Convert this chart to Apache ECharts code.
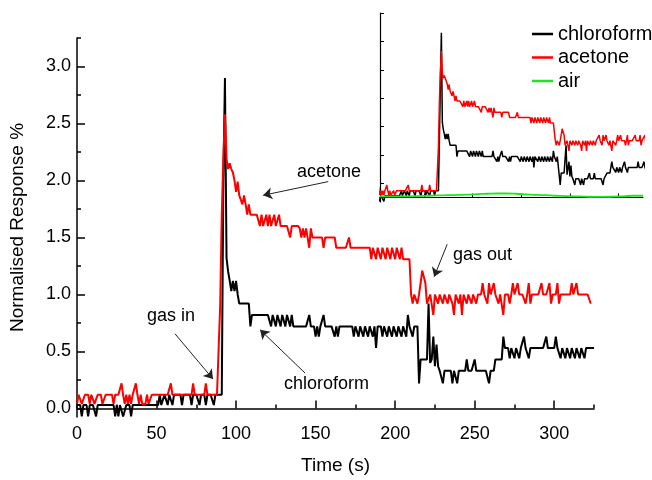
<!DOCTYPE html>
<html>
<head>
<meta charset="utf-8">
<script src="https://cdn.jsdelivr.net/npm/echarts@6/dist/echarts.min.js"></script>
<style>
html, body { margin: 0; padding: 0; background: #fff; }
#chart { width: 652px; height: 480px; }
</style>
</head>
<body>
<div id="chart"></div>
<script>
// sampling step of both traces (s)
const timeStep = 1

// normalised response, one value per second from t = 0
const chloroform = [
    0.03, 0.03, 0.03, -0.07, 0.03, 0.03, 0.03, -0.07, 0.03, 0.03,
    0.03, 0.03, -0.07, 0.03, 0.03, 0.03, 0.03, 0.03, 0.03, 0.03,
    0.03, 0.03, 0.03, 0.03, -0.07, 0.03, -0.07, 0.03, 0.03, -0.07,
    -0.07, 0.03, 0.03, 0.03, -0.07, 0.03, 0.03, 0.03, 0.03, 0.03,
    0.03, 0.03, 0.03, 0.03, 0.03, 0.03, 0.03, 0.03, 0.03, 0.03,
    0.03, 0.03, 0.12, 0.03, 0.03, 0.12, 0.12, 0.03, 0.12, 0.12,
    0.03, 0.12, 0.12, 0.12, 0.12, 0.12, 0.03, 0.12, 0.12, 0.12,
    0.12, 0.12, 0.03, 0.12, 0.12, 0.12, 0.12, 0.03, 0.12, 0.12,
    0.12, 0.03, 0.12, 0.12, 0.12, 0.12, 0.03, 0.12, 0.12, 0.12,
    0.12, 0.12, 2.0, 2.9, 1.32, 1.2, 1.12, 1.03, 1.12, 1.03,
    1.12, 1.0, 0.92, 0.92, 0.92, 0.92, 0.92, 0.92, 0.92, 0.72,
    0.82, 0.82, 0.82, 0.82, 0.82, 0.82, 0.82, 0.82, 0.82, 0.82,
    0.82, 0.82, 0.72, 0.82, 0.82, 0.72, 0.82, 0.82, 0.72, 0.82,
    0.82, 0.72, 0.82, 0.82, 0.72, 0.82, 0.72, 0.72, 0.72, 0.72,
    0.72, 0.72, 0.72, 0.72, 0.72, 0.72, 0.82, 0.72, 0.72, 0.72,
    0.63, 0.72, 0.63, 0.72, 0.72, 0.82, 0.72, 0.72, 0.72, 0.72,
    0.72, 0.72, 0.63, 0.72, 0.63, 0.72, 0.72, 0.72, 0.72, 0.72,
    0.72, 0.72, 0.72, 0.72, 0.63, 0.72, 0.72, 0.63, 0.72, 0.72,
    0.63, 0.72, 0.72, 0.63, 0.72, 0.72, 0.63, 0.72, 0.53, 0.72,
    0.72, 0.72, 0.63, 0.72, 0.72, 0.63, 0.72, 0.72, 0.63, 0.72,
    0.72, 0.63, 0.72, 0.72, 0.63, 0.72, 0.72, 0.63, 0.82, 0.72,
    0.72, 0.63, 0.72, 0.72, 0.72, 0.22, 0.43, 0.43, 0.43, 0.43,
    0.43, 0.92, 0.40, 0.43, 0.63, 0.37, 0.56, 0.37, 0.33, 0.33,
    0.22, 0.33, 0.33, 0.33, 0.33, 0.33, 0.22, 0.33, 0.33, 0.22,
    0.33, 0.33, 0.33, 0.33, 0.33, 0.43, 0.33, 0.33, 0.33, 0.33,
    0.43, 0.33, 0.33, 0.33, 0.33, 0.33, 0.33, 0.33, 0.33, 0.22,
    0.33, 0.33, 0.33, 0.43, 0.43, 0.43, 0.43, 0.43, 0.63, 0.53,
    0.53, 0.53, 0.44, 0.53, 0.53, 0.44, 0.53, 0.53, 0.44, 0.53,
    0.53, 0.63, 0.53, 0.53, 0.44, 0.53, 0.53, 0.53, 0.53, 0.53,
    0.53, 0.53, 0.53, 0.53, 0.53, 0.63, 0.53, 0.53, 0.53, 0.53,
    0.53, 0.63, 0.53, 0.53, 0.44, 0.53, 0.53, 0.44, 0.53, 0.53,
    0.44, 0.53, 0.53, 0.44, 0.53, 0.53, 0.44, 0.53, 0.53, 0.44,
    0.53, 0.53, 0.53, 0.53, 0.53, 0.53
]
const acetone = [
    0.04, 0.12, 0.12, 0.04, 0.04, 0.12, 0.12, 0.12, 0.04, 0.12,
    0.12, 0.04, 0.04, 0.12, 0.12, 0.12, 0.04, 0.04, 0.12, 0.12,
    0.12, 0.12, 0.12, 0.04, 0.12, 0.12, 0.12, 0.12, 0.22, 0.12,
    0.04, 0.12, 0.04, 0.12, 0.04, 0.12, 0.12, 0.22, 0.12, 0.04,
    0.12, 0.04, 0.04, 0.04, 0.12, 0.04, 0.04, 0.12, 0.12, 0.12,
    0.12, 0.12, 0.12, 0.12, 0.12, 0.12, 0.12, 0.12, 0.12, 0.22,
    0.12, 0.12, 0.12, 0.12, 0.12, 0.12, 0.12, 0.12, 0.12, 0.12,
    0.12, 0.12, 0.12, 0.22, 0.12, 0.12, 0.12, 0.12, 0.12, 0.12,
    0.12, 0.22, 0.12, 0.12, 0.12, 0.12, 0.12, 0.12, 0.12, 0.12,
    0.9, 1.7, 2.2, 2.58, 2.19, 2.1, 2.15, 2.1, 2.07, 2.0,
    1.9, 1.99, 1.87, 1.87, 1.79, 1.87, 1.79, 1.70, 1.79, 1.70,
    1.70, 1.70, 1.70, 1.70, 1.70, 1.60, 1.70, 1.60, 1.60, 1.70,
    1.60, 1.70, 1.60, 1.60, 1.70, 1.60, 1.60, 1.70, 1.60, 1.60,
    1.60, 1.60, 1.60, 1.60, 1.50, 1.60, 1.60, 1.60, 1.60, 1.60,
    1.58, 1.50, 1.58, 1.50, 1.58, 1.58, 1.41, 1.58, 1.50, 1.50,
    1.50, 1.50, 1.50, 1.50, 1.50, 1.41, 1.50, 1.50, 1.50, 1.50,
    1.50, 1.50, 1.50, 1.41, 1.41, 1.41, 1.41, 1.41, 1.41, 1.41,
    1.41, 1.50, 1.41, 1.41, 1.41, 1.41, 1.41, 1.41, 1.41, 1.41,
    1.41, 1.41, 1.41, 1.41, 1.41, 1.31, 1.41, 1.41, 1.31, 1.41,
    1.41, 1.31, 1.41, 1.41, 1.31, 1.41, 1.41, 1.31, 1.41, 1.41,
    1.31, 1.41, 1.41, 1.31, 1.41, 1.31, 1.31, 1.31, 1.31, 1.31,
    1.0, 0.92, 1.0, 1.0, 0.92, 1.0, 1.1, 1.21, 1.21, 1.1,
    0.92, 0.92, 1.0, 1.0, 0.82, 1.0, 1.0, 0.92, 1.0, 1.0,
    0.92, 1.0, 1.0, 0.92, 1.0, 1.0, 0.92, 0.82, 1.0, 1.0,
    0.92, 1.0, 0.82, 1.0, 1.0, 0.92, 1.0, 1.0, 0.92, 1.0,
    1.0, 0.92, 1.0, 1.0, 1.0, 1.1, 1.0, 1.0, 0.92, 1.1,
    1.0, 1.0, 1.1, 1.0, 1.0, 0.92, 1.0, 1.0, 0.82, 1.0,
    1.0, 1.0, 0.92, 1.0, 1.1, 1.0, 1.0, 1.1, 1.0, 1.0,
    1.0, 1.0, 0.92, 1.0, 1.1, 0.92, 1.0, 1.0, 1.0, 1.0,
    1.0, 1.0, 1.1, 1.0, 1.0, 1.0, 1.0, 1.1, 0.92, 1.0,
    1.0, 1.0, 1.1, 0.92, 1.0, 1.0, 1.0, 1.0, 1.0, 1.0,
    1.0, 1.1, 1.0, 1.0, 1.1, 1.0, 1.0, 1.0, 1.0, 1.0,
    1.0, 1.0, 1.0, 0.92
]
// air reference (inset only)
const airTime = [30, 40, 50, 60, 70, 80, 90, 100, 110, 120, 130, 140, 150, 160,
    170, 180, 190, 200, 210, 220, 230, 240, 250, 260, 270, 280, 290, 300]
const air = [0.02, 0.02, 0.02, 0.02, 0.025, 0.03, 0.035, 0.04, 0.045, 0.05, 0.06, 0.065, 0.07, 0.07,
    0.065, 0.055, 0.045, 0.04, 0.03, 0.025, 0.02, 0.015, 0.01, 0.01, 0.015, 0.02, 0.03, 0.03]

// tick positions
const xLabels = [0, 50, 100, 150, 200, 250, 300]
const xMinor = [25, 75, 125, 175, 225, 275, 325]
const yLabels = [0, 0.5, 1.0, 1.5, 2.0, 2.5, 3.0]
const yMinor = [0.25, 0.75, 1.25, 1.75, 2.25, 2.75, 3.25]
const insetXTicks = [75, 125, 175, 225, 275]
const insetYTicks = [0.25, 0.75, 1.25, 1.75, 2.25, 2.75, 3.25]

const FONT = '"Liberation Sans", Arial, sans-serif'
const toPairs = (arr) => arr.map((v, i) => [i * timeStep, v])

var chart = echarts.init(document.getElementById('chart'))

var axisLine = { lineStyle: { color: '#000', width: 1.5 } }
var hidden = { show: false }

var option = {
    animation: false,
    backgroundColor: '#fff',
    grid: [
        { left: 77, top: 38, width: 517, height: 383 },
        // inset
        { left: 380, top: 13, width: 263, height: 189 },
    ],
    xAxis: [
        {
            type: 'value', gridIndex: 0, min: 0, max: 325,
            name: 'Time (s)', nameLocation: 'middle', nameGap: 39,
            nameTextStyle: { color: '#000', fontSize: 19, fontFamily: FONT },
            axisLine: axisLine,
            axisTick: { inside: true, length: 8, customValues: xLabels, lineStyle: { color: '#000', width: 1.5 } },
            axisLabel: { customValues: xLabels, color: '#000', fontSize: 18, fontFamily: FONT, margin: 8 },
            splitLine: hidden,
        },
        {
            // minor ticks
            type: 'value', gridIndex: 0, min: 0, max: 325, position: 'bottom',
            axisLine: hidden, axisLabel: hidden, splitLine: hidden,
            axisTick: { inside: true, length: 4, customValues: xMinor, lineStyle: { color: '#000', width: 1.5 } },
        },
        {
            type: 'value', gridIndex: 1, min: 30, max: 300,
            axisLine: { lineStyle: { color: '#000', width: 1.2 } },
            axisTick: { inside: true, length: 4, customValues: insetXTicks, lineStyle: { color: '#000', width: 1 } },
            axisLabel: hidden, splitLine: hidden,
        },
    ],
    yAxis: [
        {
            type: 'value', gridIndex: 0, min: -0.075, max: 3.25,
            name: 'Normalised Response %', nameLocation: 'middle', nameGap: 50,
            nameTextStyle: { color: '#000', fontSize: 19, fontFamily: FONT },
            axisLine: { show: true, lineStyle: { color: '#000', width: 1.5 } },
            axisTick: { show: true, inside: true, length: 8, customValues: yLabels, lineStyle: { color: '#000', width: 1.5 } },
            axisLabel: {
                customValues: yLabels, color: '#000', fontSize: 18, fontFamily: FONT, margin: 6,
                formatter: (v) => v.toFixed(1),
            },
            splitLine: hidden,
        },
        {
            type: 'value', gridIndex: 0, min: -0.075, max: 3.25, position: 'left',
            axisLine: hidden, axisLabel: hidden, splitLine: hidden,
            axisTick: { show: true, inside: true, length: 4, customValues: yMinor, lineStyle: { color: '#000', width: 1.5 } },
        },
        {
            type: 'value', gridIndex: 1, min: -0.08, max: 3.25,
            axisLine: { show: true, lineStyle: { color: '#000', width: 1.2 } },
            axisTick: { show: true, inside: true, length: 4, customValues: insetYTicks, lineStyle: { color: '#000', width: 1 } },
            axisLabel: hidden, splitLine: hidden,
        },
    ],
    legend: {
        data: ['chloroform', 'acetone', 'air'],
        orient: 'vertical', left: 527, top: 19,
        icon: 'rect', itemWidth: 21, itemHeight: 2.5, itemGap: 3.5,
        textStyle: { color: '#000', fontSize: 20, fontFamily: FONT },
    },
    series: [
        {
            name: 'chloroform', type: 'line', xAxisIndex: 0, yAxisIndex: 0,
            data: toPairs(chloroform), showSymbol: false, symbol: 'none',
            color: '#000', lineStyle: { color: '#000', width: 2 },
            markLine: {
                silent: true, symbol: ['none', 'arrow'], symbolSize: 9,
                label: { show: false },
                lineStyle: { color: '#222', width: 1, type: 'solid' },
                data: [
                    [{ coord: [157.9, 1.99] }, { coord: [117, 1.87] }],   // acetone
                    [{ coord: [61.6, 0.655] }, { coord: [85.5, 0.258] }], // gas in
                    [{ coord: [143.4, 0.31] }, { coord: [115.1, 0.69] }], // chloroform
                    [{ coord: [232.7, 1.44] }, { coord: [224.5, 1.155] }], // gas out
                ],
            },
        },
        {
            name: 'acetone', type: 'line', xAxisIndex: 0, yAxisIndex: 0,
            data: toPairs(acetone), showSymbol: false, symbol: 'none',
            color: '#ff0000', lineStyle: { color: '#ff0000', width: 2 },
        },
        {
            name: 'chloroform', type: 'line', xAxisIndex: 2, yAxisIndex: 2,
            data: toPairs(chloroform), showSymbol: false, symbol: 'none',
            color: '#000', lineStyle: { color: '#000', width: 1.5 },
        },
        {
            name: 'acetone', type: 'line', xAxisIndex: 2, yAxisIndex: 2,
            data: toPairs(acetone), showSymbol: false, symbol: 'none',
            color: '#ff0000', lineStyle: { color: '#ff0000', width: 1.5 },
        },
        {
            name: 'air', type: 'line', xAxisIndex: 2, yAxisIndex: 2,
            data: airTime.map((t, i) => [t, air[i]]), showSymbol: false, symbol: 'none', smooth: true,
            color: '#1ee61e', lineStyle: { color: '#1ee61e', width: 1.8 },
        },
    ],
    graphic: [
        { type: 'text', left: 297, top: 163, style: { text: 'acetone', font: '18px ' + FONT, fill: '#000' } },
        { type: 'text', left: 147, top: 307, style: { text: 'gas in', font: '18px ' + FONT, fill: '#000' } },
        { type: 'text', left: 284, top: 375, style: { text: 'chloroform', font: '18px ' + FONT, fill: '#000' } },
        { type: 'text', left: 453, top: 246, style: { text: 'gas out', font: '18px ' + FONT, fill: '#000' } },
    ],
}
chart.setOption(option)
window.addEventListener('resize', chart.resize)
</script>
</body>
</html>
